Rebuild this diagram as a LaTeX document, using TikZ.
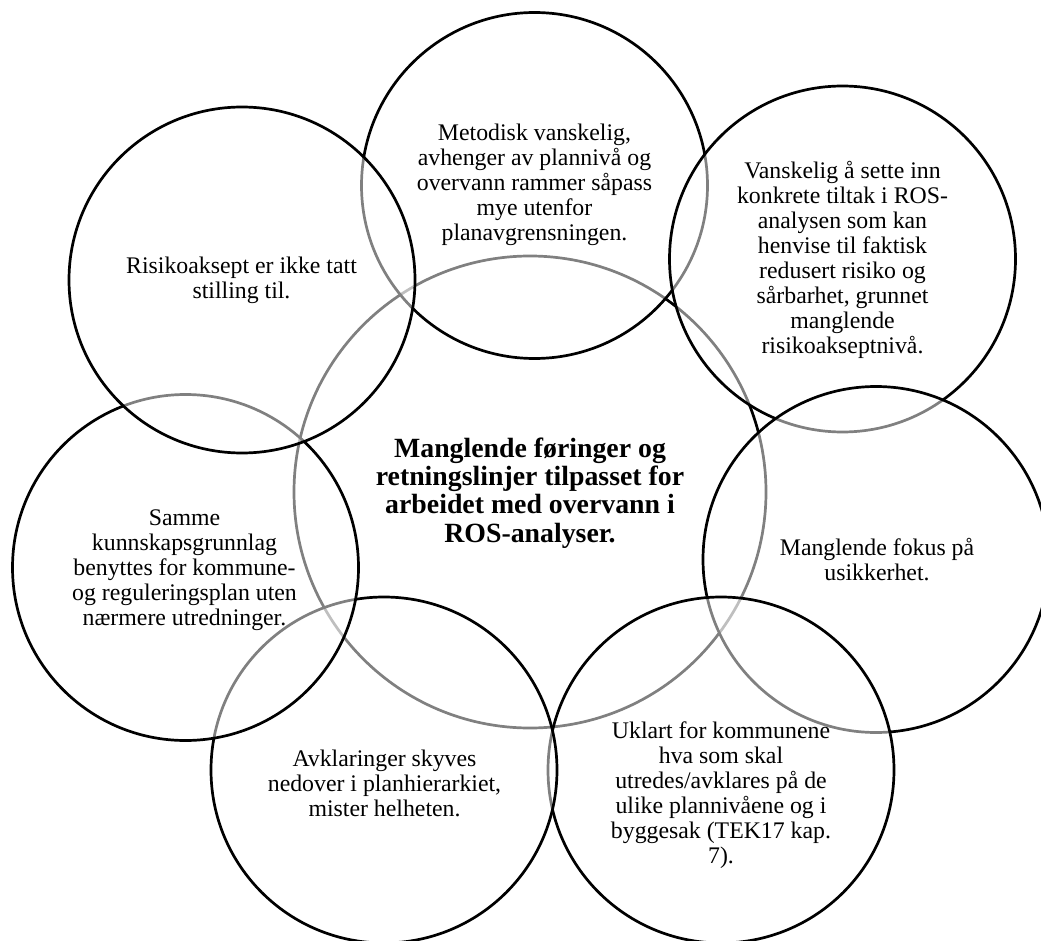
\documentclass[tikz,border=0pt]{standalone}
\usepackage{fontspec}
\setmainfont{Liberation Serif}
\begin{document}
\begin{tikzpicture}[x=1pt,y=-1pt,
  bubble/.style={circle, draw=black, line width=2.7pt, fill=white, fill opacity=0.5, minimum size=346pt, inner sep=0pt},
  txt/.style={align=center, font=\fontsize{23.8}{25}\selectfont, text=black, inner sep=0pt},
  titletxt/.style={align=center, font=\bfseries\fontsize{27.8}{28.3}\selectfont, text=black, inner sep=0pt}]
\useasboundingbox (0,0) rectangle (1041,941);
\clip (0,0) rectangle (1041,941);
% centre
\node[bubble, fill opacity=1, minimum size=472pt] (c) at (530,492) {};
\node[titletxt] (ct) at (530,493) {Manglende føringer og\\retningslinjer tilpasset for\\arbeidet med overvann i\\ROS-analyser.};
% top
\node[bubble] (t) at (534.5,185.5) {};
\node[txt] (tt) at (534.5,185) {Metodisk vanskelig,\\avhenger av plannivå og\\overvann rammer såpass\\mye utenfor\\planavgrensningen.};
% top right
\node[bubble] (tr) at (842.5,259) {};
\node[txt] (trt) at (842.5,259.5) {Vanskelig å sette inn\\konkrete tiltak i ROS-\\analysen som kan\\henvise til faktisk\\redusert risiko og\\sårbarhet, grunnet\\manglende\\risikoakseptnivå.};
% right
\node[bubble] (r) at (876,559.5) {};
\node[txt] (rt) at (877,560) {Manglende fokus på\\usikkerhet.};
% bottom right
\node[bubble] (br) at (721,770) {};
\node[txt] (brt) at (721,795.5) {Uklart for kommunene\\hva som skal\\utredes/avklares på de\\ulike plannivåene og i\\byggesak (TEK17 kap.\\7).};
% bottom left
\node[bubble] (bl) at (384,770) {};
\node[txt] (blt) at (384.5,783) {Avklaringer skyves\\nedover i planhierarkiet,\\mister helheten.};
% left
\node[bubble] (l) at (185.5,567.5) {};
\node[txt] (lt) at (184.5,570) {Samme\\kunnskapsgrunnlag\\benyttes for kommune-\\og reguleringsplan uten\\nærmere utredninger.};
% top left
\node[bubble] (tl) at (242,280) {};
\node[txt] (tlt) at (241.5,280) {Risikoaksept er ikke tatt\\stilling til.};
\end{tikzpicture}
\end{document}
